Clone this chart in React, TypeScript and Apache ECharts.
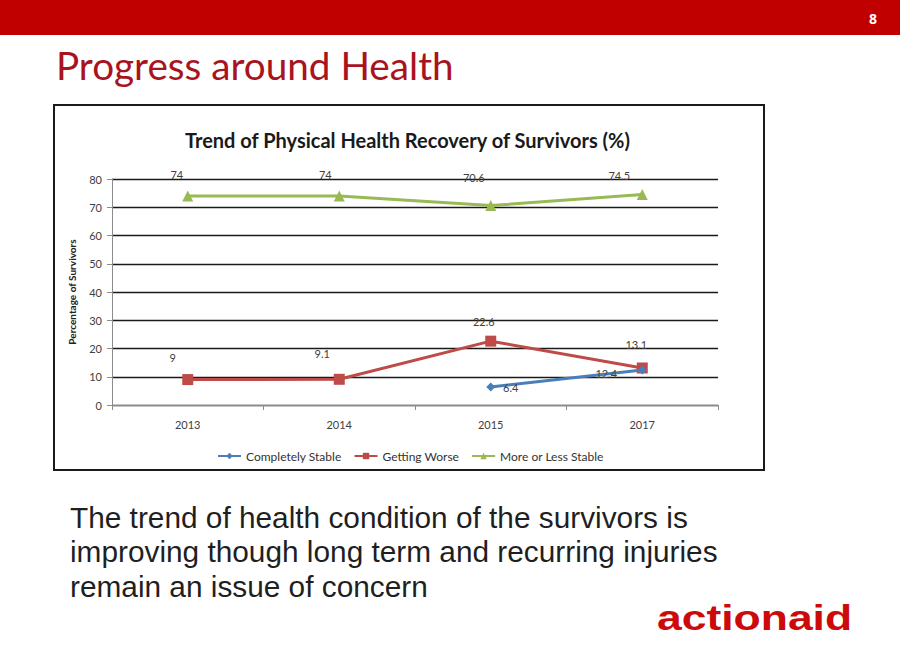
import React, { useEffect, useRef } from "react";
import * as echarts from "echarts";

const years = ["2013", "2014", "2015", "2017"];
const completelyStable = [null, null, 6.4, 12.4];
const gettingWorse = [9, 9.1, 22.6, 13.1];
const moreOrLessStable = [74, 74, 70.6, 74.5];
const yTicks = { min: 0, max: 80, interval: 10 };

const blueLabelOffsets = [[0, 0], [0, 0], [20, 1], [-36, 4]];
const redLabelOffsets = [[-15, -22], [-17, -26], [-7, -20], [-6, -23]];
const greenLabelOffsets = [[-11, -21], [-14, -21], [-17, -28], [-23, -19]];

const CHART_FONT = "Lato, 'Open Sans', sans-serif";

function withLabels(values: (number | null)[], offsets: number[][]) {
  return values.map((v, i) =>
    v === null
      ? null
      : {
          value: v,
          label: { offset: offsets[i] },
        }
  );
}

export default function App() {
  const ref = useRef<HTMLDivElement>(null);

  useEffect(() => {
    document.body.style.margin = "0";
    const chart = echarts.init(ref.current!, null, { renderer: "svg" });
    const labelBase = {
      show: true,
      position: "inside",
      fontSize: 11,
      color: "#404040",
      fontFamily: CHART_FONT,
    };
    const option: any = {
      animation: false,
      backgroundColor: "#ffffff",
      textStyle: { fontFamily: CHART_FONT },
      grid: { left: 112, right: 182, top: 179, bottom: 267, containLabel: false },
      legend: {
        left: 212,
        top: 445,
        itemWidth: 23,
        itemHeight: 8,
        itemGap: 12,
        textStyle: { fontSize: 12, color: "#333", fontFamily: CHART_FONT },
        data: ["Completely Stable", "Getting Worse", "More or Less Stable"],
      },
      xAxis: {
        type: "category",
        data: years,
        boundaryGap: true,
        axisLine: { lineStyle: { color: "#8c8c8c", width: 1 } },
        axisTick: { show: true, alignWithLabel: false, length: 5, lineStyle: { color: "#8c8c8c" } },
        axisLabel: { fontSize: 11, color: "#404040", margin: 14, fontFamily: CHART_FONT },
        splitLine: { show: false },
      },
      yAxis: {
        type: "value",
        min: yTicks.min,
        max: yTicks.max,
        interval: yTicks.interval,
        name: "Percentage of Survivors",
        nameLocation: "middle",
        nameGap: 35,
        nameTextStyle: { fontSize: 10, fontWeight: "bold", color: "#222", fontFamily: CHART_FONT },
        axisLine: { show: true, lineStyle: { color: "#8c8c8c", width: 1 } },
        axisTick: { show: true, length: 5, lineStyle: { color: "#8c8c8c" } },
        axisLabel: { fontSize: 11, color: "#404040", margin: 10, fontFamily: CHART_FONT },
        splitLine: { show: true, lineStyle: { color: "#1a1a1a", width: 1.3 } },
      },
      series: [
        {
          name: "Completely Stable",
          type: "line",
          data: withLabels(completelyStable, blueLabelOffsets),
          symbol: "diamond",
          symbolSize: 9,
          itemStyle: { color: "#4a7ebb" },
          lineStyle: { color: "#4a7ebb", width: 3 },
          label: labelBase,
          z: 3,
        },
        {
          name: "Getting Worse",
          type: "line",
          data: withLabels(gettingWorse, redLabelOffsets),
          symbol: "rect",
          symbolSize: 11,
          itemStyle: { color: "#be4b48" },
          lineStyle: { color: "#be4b48", width: 3 },
          label: labelBase,
          z: 2,
        },
        {
          name: "More or Less Stable",
          type: "line",
          data: withLabels(moreOrLessStable, greenLabelOffsets),
          symbol: "triangle",
          symbolSize: 11,
          itemStyle: { color: "#98b954" },
          lineStyle: { color: "#98b954", width: 3 },
          label: labelBase,
          z: 2,
        },
      ],
      title: {
        text: "Trend of Physical Health Recovery of Survivors (%)",
        left: 180,
        top: 125,
        textStyle: { fontSize: 20, fontWeight: "bold", color: "#1a1a1a", fontFamily: CHART_FONT },
      },
      graphic: [
        {
          type: "rect",
          shape: { x: 0, y: 0, width: 900, height: 35 },
          style: { fill: "#c00000" },
          z: -1,
        },
        {
          type: "text",
          style: {
            text: "8",
            x: 873,
            y: 18,
            fill: "#ffffff",
            font: "bold 14px 'Open Sans', sans-serif",
            textAlign: "center",
            verticalAlign: "middle",
          },
        },
        {
          type: "text",
          style: {
            text: "Progress around Health",
            x: 56,
            y: 65,
            fill: "#a9131d",
            font: "38.7px Lato, 'Open Sans', sans-serif",
            textAlign: "left",
            verticalAlign: "middle",
          },
        },
        {
          type: "rect",
          shape: { x: 54, y: 105, width: 710, height: 365 },
          style: { fill: "none", stroke: "#1a1a1a", lineWidth: 2 },
          z: -1,
        },
        {
          type: "text",
          style: {
            text:
              "The trend of health condition of the survivors is\nimproving though long term and recurring injuries\nremain an issue of concern",
            x: 70,
            y: 500,
            fill: "#1f1f1f",
            font: "29.8px 'Liberation Sans', Arial, sans-serif",
            lineHeight: 34.5,
            textAlign: "left",
            verticalAlign: "top",
          },
        },
        {
          type: "text",
          x: 657,
          y: 618,
          scaleX: 1.27,
          style: {
            text: "actionaid",
            x: 0,
            y: 0,
            fill: "#cc0a0a",
            font: "bold 35px 'Liberation Sans', Arial, sans-serif",
            textAlign: "left",
            verticalAlign: "middle",
          },
        },
      ],
    };
    chart.setOption(option);
    return () => chart.dispose();
  }, []);

  return (
    <div
      ref={ref}
      style={{ position: "absolute", left: 0, top: 0, width: 900, height: 672 }}
    />
  );
}
